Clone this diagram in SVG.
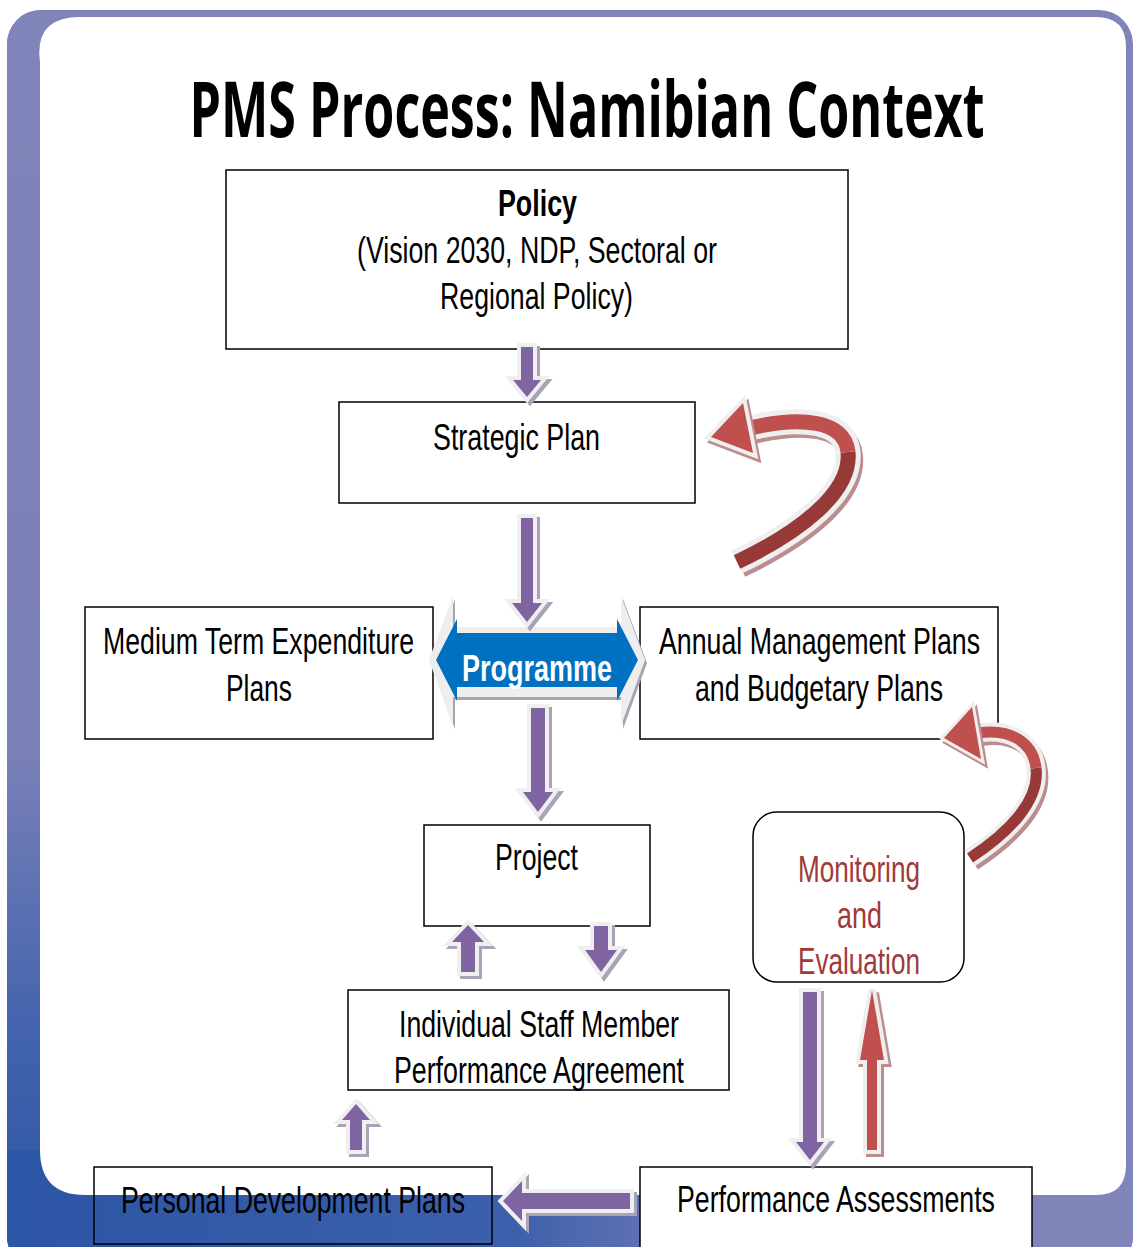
<svg xmlns="http://www.w3.org/2000/svg" xmlns:xlink="http://www.w3.org/1999/xlink" width="1134" height="1247" viewBox="0 0 1134 1247">
<defs>
<linearGradient id="leftG" gradientUnits="userSpaceOnUse" x1="0" y1="10" x2="0" y2="1247">
<stop offset="0" stop-color="#7f84b9"/>
<stop offset="0.6" stop-color="#7a80b8"/>
<stop offset="0.82" stop-color="#4464ad"/>
<stop offset="1" stop-color="#2b55a5"/>
</linearGradient>
<linearGradient id="botG" gradientUnits="userSpaceOnUse" x1="0" y1="0" x2="1134" y2="0">
<stop offset="0" stop-color="#2b55a5"/>
<stop offset="0.45" stop-color="#3c60ab"/>
<stop offset="0.62" stop-color="#6f78b6"/>
<stop offset="0.75" stop-color="#7f84b9"/>
</linearGradient>
<clipPath id="outerClip"><rect x="7" y="10" width="1126" height="1260" rx="34"/></clipPath>
<path id="a1" d="M521 347 H533 V380 H541 L527 397 L513 380 H521 Z"/>
<path id="a2" d="M521 518 H533 V603 H542 L527 622 L512 603 H521 Z"/>
<path id="a3" d="M531 708 H545 V792 H553 L538 812 L523 792 H531 Z"/>
<path id="a4" d="M461 972 V942 H452 L468 925 L484 942 H475 V972 Z"/>
<path id="a5" d="M594 926 H608 V950 H617 L601 972 L585 950 H594 Z"/>
<path id="a6" d="M350 1150 V1120 H342 L356 1104 L370 1120 H362 V1150 Z"/>
<path id="a7" d="M630 1193 V1209 H522 V1221 L503 1201 L522 1181 V1193 Z"/>
<path id="a8" d="M803 992 H817 V1142 H824 L810 1160 L796 1142 H803 Z"/>
<path id="a9" d="M867 1150 V1060 H860 L872 990 L884 1060 H877 V1150 Z"/>
</defs>
<style>
.box{fill:#ffffff;stroke:#000000;stroke-width:1.5}
.t{font-family:"Liberation Sans Narrow","Liberation Sans",Arial,sans-serif;font-size:28px;fill:#000000;text-anchor:middle}
.me{fill:#a03a3a}
.sh{fill:#aaa2b8;stroke:#aaa2b8;stroke-width:8;stroke-linejoin:miter}
.pa{fill:#8064a2;stroke:#efefef;stroke-width:8;stroke-linejoin:miter;paint-order:stroke}
.rsh{fill:#bb8d8f;stroke:#bb8d8f;stroke-width:8;stroke-linejoin:miter}
.ra{fill:#c0504d;stroke:#efefef;stroke-width:8;stroke-linejoin:miter;paint-order:stroke}
</style>

<g id="frame">
<g clip-path="url(#outerClip)">
<rect x="7" y="10" width="1126" height="1260" fill="#7f84b9"/>
<rect x="7" y="10" width="40" height="1260" fill="url(#leftG)"/>
<rect x="7" y="1150" width="1126" height="120" fill="url(#botG)"/>
</g>
<path d="M80 17 H1096 Q1126 17 1126 47 V1165 Q1126 1195 1096 1195 H85 Q40 1195 40 1150 V62 Q34 17 80 17 Z" fill="#ffffff"/>
</g>

<g id="title">
<text x="587" y="102.75" transform="scale(1,1.3333)" font-family="'Open Sans','Liberation Sans',sans-serif" font-weight="700" font-size="58" text-anchor="middle" textLength="795" lengthAdjust="spacingAndGlyphs">PMS Process: Namibian Context</text>
</g>

<g id="policy">
<rect class="box" x="226" y="170" width="622" height="179"/>
<text class="t" x="537.5" y="162" transform="scale(1,1.3333)" font-weight="700" textLength="79" lengthAdjust="spacingAndGlyphs">Policy</text>
<text class="t" x="537" y="197.25" transform="scale(1,1.3333)" textLength="360" lengthAdjust="spacingAndGlyphs">(Vision 2030, NDP, Sectoral or</text>
<text class="t" x="536.5" y="231.75" transform="scale(1,1.3333)" textLength="193" lengthAdjust="spacingAndGlyphs">Regional Policy)</text>
</g>

<g id="strategic-plan">
<rect class="box" x="339" y="402" width="356" height="101"/>
<text class="t" x="516.5" y="337.5" transform="scale(1,1.3333)" textLength="167" lengthAdjust="spacingAndGlyphs">Strategic Plan</text>
</g>

<g id="mtep">
<rect class="box" x="85" y="607" width="348" height="132"/>
<text class="t" x="258.5" y="490.5" transform="scale(1,1.3333)" textLength="311" lengthAdjust="spacingAndGlyphs">Medium Term Expenditure</text>
<text class="t" x="259" y="525.75" transform="scale(1,1.3333)" textLength="66" lengthAdjust="spacingAndGlyphs">Plans</text>
</g>

<g id="amp">
<rect class="box" x="640" y="607" width="358" height="132"/>
<text class="t" x="819.5" y="490.5" transform="scale(1,1.3333)" textLength="321" lengthAdjust="spacingAndGlyphs">Annual Management Plans</text>
<text class="t" x="819" y="525.75" transform="scale(1,1.3333)" textLength="248" lengthAdjust="spacingAndGlyphs">and Budgetary Plans</text>
</g>

<g id="programme">
<path d="M429 660 L453 596 V627 H621 V596 L645 660 L621 726 V697 H453 V726 Z" fill="#a9a3b3" transform="translate(2,3)"/>
<path d="M429 660 L453 596 V627 H621 V596 L645 660 L621 726 V697 H453 V726 Z" fill="#eeeeee"/>
<path d="M436 660 L457 619 V633 H617 V619 L638 660 L617 701 V687 H457 V701 Z" fill="#0070c0"/>
<text x="537" y="510.75" transform="scale(1,1.3333)" font-family="'Liberation Sans Narrow','Liberation Sans',Arial,sans-serif" font-weight="700" font-size="28" fill="#ffffff" text-anchor="middle" textLength="150" lengthAdjust="spacingAndGlyphs">Programme</text>
</g>

<g id="project">
<rect class="box" x="424" y="825" width="226" height="101"/>
<text class="t" x="536.5" y="652.5" transform="scale(1,1.3333)" textLength="83" lengthAdjust="spacingAndGlyphs">Project</text>
</g>

<g id="monitoring">
<rect class="box" x="753" y="812" width="211" height="170" rx="24"/>
<text class="t me" x="859" y="661.5" transform="scale(1,1.3333)" textLength="122" lengthAdjust="spacingAndGlyphs">Monitoring</text>
<text class="t me" x="859.5" y="696" transform="scale(1,1.3333)" textLength="45" lengthAdjust="spacingAndGlyphs">and</text>
<text class="t me" x="859" y="730.5" transform="scale(1,1.3333)" textLength="122" lengthAdjust="spacingAndGlyphs">Evaluation</text>
</g>

<g id="ismpa">
<rect class="box" x="348" y="990" width="381" height="100"/>
<text class="t" x="539" y="777.75" transform="scale(1,1.3333)" textLength="280" lengthAdjust="spacingAndGlyphs">Individual Staff Member</text>
<text class="t" x="539" y="812.25" transform="scale(1,1.3333)" textLength="290" lengthAdjust="spacingAndGlyphs">Performance Agreement</text>
</g>

<g id="pdp">
<rect x="94" y="1167" width="398" height="77" fill="none" stroke="#000000" stroke-width="1.5"/>
<text class="t" x="293" y="909.75" transform="scale(1,1.3333)" textLength="344" lengthAdjust="spacingAndGlyphs">Personal Development Plans</text>
</g>

<g id="pa">
<rect class="box" x="640" y="1167" width="392" height="90"/>
<text class="t" x="836" y="909" transform="scale(1,1.3333)" textLength="318" lengthAdjust="spacingAndGlyphs">Performance Assessments</text>
</g>

<g id="connectors">
<use href="#a1" class="sh" transform="translate(3,3)"/><use href="#a1" class="pa"/>
<use href="#a2" class="sh" transform="translate(3,3)"/><use href="#a2" class="pa"/>
<use href="#a3" class="sh" transform="translate(3,3)"/><use href="#a3" class="pa"/>
<use href="#a4" class="sh" transform="translate(3,3)"/><use href="#a4" class="pa"/>
<use href="#a5" class="sh" transform="translate(3,3)"/><use href="#a5" class="pa"/>
<use href="#a6" class="sh" transform="translate(3,3)"/><use href="#a6" class="pa"/>
<use href="#a7" class="sh" transform="translate(3,3)"/><use href="#a7" class="pa"/>
<use href="#a8" class="sh" transform="translate(3,3)"/><use href="#a8" class="pa"/>
<use href="#a9" class="rsh" transform="translate(3,3)"/><use href="#a9" class="ra"/>

<g id="curve1">
<path d="M737 562 C 800 532, 852 492, 848 452 C 845 420, 800 416, 750 428" fill="none" stroke="#bb8d8f" stroke-width="24" transform="translate(3,4)"/>
<path d="M737 562 C 800 532, 852 492, 848 452 C 845 420, 800 416, 750 428" fill="none" stroke="#efefef" stroke-width="25"/>
<path d="M737 562 C 800 532, 852 492, 848 452" fill="none" stroke="#973937" stroke-width="15"/>
<path d="M848 452 C 845 420, 800 416, 750 428" fill="none" stroke="#c0504d" stroke-width="15"/>
<polygon points="743,403 753,453 711,437" fill="#bb8d8f" stroke="#bb8d8f" stroke-width="8" stroke-linejoin="miter" transform="translate(3,4)"/>
<polygon points="743,403 753,453 711,437" class="ra"/>
</g>

<g id="curve2">
<path d="M970 858 C 1010 832, 1040 800, 1036 768 C 1033 742, 1010 728, 978 733" fill="none" stroke="#bb8d8f" stroke-width="18" transform="translate(3,4)"/>
<path d="M970 858 C 1010 832, 1040 800, 1036 768 C 1033 742, 1010 728, 978 733" fill="none" stroke="#efefef" stroke-width="19"/>
<path d="M970 858 C 1010 832, 1040 800, 1036 768" fill="none" stroke="#973937" stroke-width="11"/>
<path d="M1036 768 C 1033 742, 1010 728, 978 733" fill="none" stroke="#c0504d" stroke-width="11"/>
<polygon points="972,707 981,759 944,738" fill="#bb8d8f" stroke="#bb8d8f" stroke-width="6" stroke-linejoin="miter" transform="translate(3,4)"/>
<polygon points="972,707 981,759 944,738" fill="#c0504d" stroke="#efefef" stroke-width="6" stroke-linejoin="miter" paint-order="stroke"/>
</g>
</g>
</svg>
